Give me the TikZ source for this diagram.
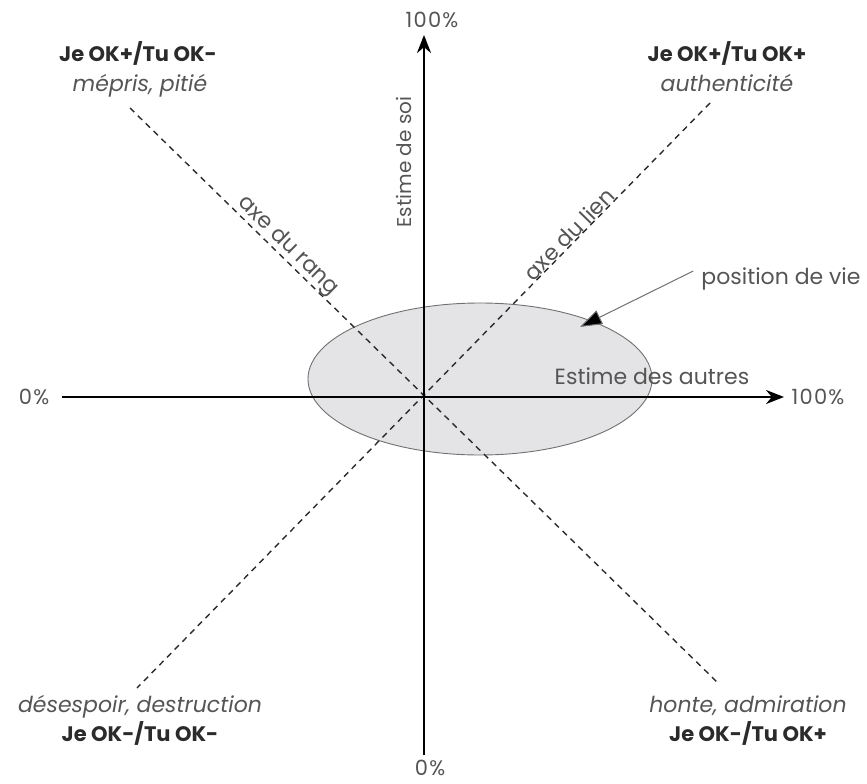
\documentclass[tikz,border=0pt]{standalone}
\usepackage{fontspec}
\setmainfont{Poppins}
\usetikzlibrary{arrows.meta,shapes.geometric}
\definecolor{txt}{HTML}{2B2B2B}
\definecolor{itx}{HTML}{555555}
\definecolor{ellfill}{HTML}{E4E4E6}
\definecolor{ellline}{HTML}{707070}
\begin{document}
\begin{tikzpicture}[x=1pt,y=-1pt,
  axis/.style={line width=2.6pt, draw=black, -{Stealth[length=18pt,width=14pt]}},
  diag/.style={line width=1.4pt, dash pattern=on 6pt off 5pt, draw=txt},
  boldlbl/.style={font=\fontsize{21}{24}\selectfont\bfseries, text=txt, inner sep=0pt},
  itlbl/.style={font=\fontsize{22}{24}\selectfont\itshape, text=itx, inner sep=0pt},
  lbl/.style={font=\fontsize{22}{24}\selectfont, text=itx, inner sep=0pt},
  pct/.style={font=\fontsize{21}{24}\selectfont\addfontfeature{LetterSpace=6}, text=itx, inner sep=1pt},
  oval/.style={ellipse, draw=ellline, fill=ellfill, line width=0.9pt, inner sep=0pt},
]
\path[use as bounding box] (0,0) rectangle (867,784);

% life position ellipse
\node[oval, minimum width=344pt, minimum height=152pt] (ell) at (480,379) {};

% dashed diagonals
\coordinate (TL) at (130,108);
\coordinate (BR) at (717,682);
\coordinate (TR) at (710,103);
\coordinate (BL) at (137,688);
\draw[diag] (TL) -- (BR);
\draw[diag] (TR) -- (BL);

% axis end labels
\node[pct] (ytop) at (432,20) {100\%};
\node[pct] (ybot) at (430,768) {0\%};
\node[pct] (xleft) at (34,397) {0\%};
\node[pct] (xright) at (818,397) {100\%};

% axes
\coordinate (yB) at (424,755);
\coordinate (yT) at (424,35);
\coordinate (xL) at (62,397);
\coordinate (xR) at (784,397);
\draw[axis] (yB) -- (yT);
\draw[axis] (xL) -- (xR);

% axis titles
\node[lbl, font=\fontsize{20}{24}\selectfont, rotate=90] (esoi) at (404,162) {Estime de soi};
\node[lbl, anchor=base] (eaut) at (652,384) {Estime des autres};
\node[lbl, rotate=-44.4] (rang) at (288,246) {axe du rang};
\node[lbl, rotate=45.6] (lien) at (569,234) {axe du lien};

% position de vie
\node[lbl] (pdv) at (781,279) {position de vie};
\coordinate (pdvtip) at (580,327);
\draw[draw=ellline, line width=1pt, -{Triangle[length=22pt,width=15pt,fill=black]}] ([xshift=-8pt,yshift=8pt]pdv.west) -- (pdvtip);

% quadrant labels
\node[boldlbl, anchor=base] (q1a) at (138,62) {Je OK+/Tu OK-};
\node[itlbl, anchor=base] (q1b) at (140,91) {mépris, pitié};
\node[boldlbl, anchor=base] (q2a) at (727,62) {Je OK+/Tu OK+};
\node[itlbl, anchor=base] (q2b) at (727,91) {authenticité};
\node[itlbl, anchor=base] (q3b) at (140,712) {désespoir, destruction};
\node[boldlbl, anchor=base] (q3a) at (140,741) {Je OK-/Tu OK-};
\node[itlbl, anchor=base] (q4b) at (748,712) {honte, admiration};
\node[boldlbl, anchor=base] (q4a) at (748,741) {Je OK-/Tu OK+};
\end{tikzpicture}
\end{document}
